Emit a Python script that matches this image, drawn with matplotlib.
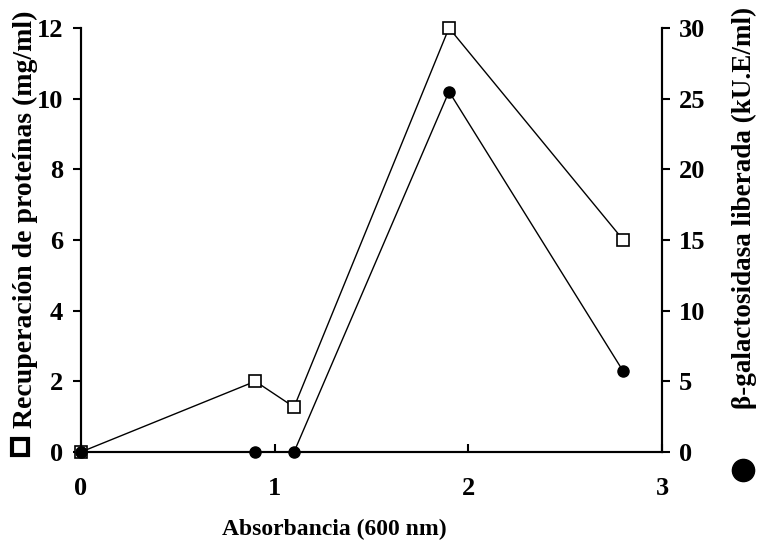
import matplotlib.pyplot as plt
from matplotlib.lines import Line2D

plt.rcParams['font.family'] = ['Liberation Serif', 'DejaVu Serif']
plt.rcParams['font.weight'] = 'bold'

absorbancia = [0, 0.9, 1.1, 1.9, 2.8]
proteinas = [0, 2.0, 1.27, 12.0, 6.0]
galactosidasa = [0, 0, 0, 25.5, 5.7]

fig = plt.figure(figsize=(7.6, 5.46), dpi=100)
ax = fig.add_axes([0.1066, 0.1722, 0.7645, 0.7766])
ax2 = ax.twinx()

ax.plot(absorbancia, proteinas, color='black', lw=1.0, marker='s', ms=8.5,
        mfc='white', mec='black', mew=1.2, zorder=3, clip_on=False)
ax2.plot(absorbancia, galactosidasa, color='black', lw=1.0, marker='o', ms=8,
         mfc='black', mec='black', zorder=3, clip_on=False)

ax.set_xlim(0, 3)
ax.set_ylim(0, 12)
ax2.set_ylim(0, 30)
ax.set_xticks([0, 1, 2, 3])
ax.set_yticks(range(0, 13, 2))
ax2.set_yticks(range(0, 31, 5))

for a in (ax, ax2):
    a.spines['top'].set_visible(False)
    for s in a.spines.values():
        s.set_linewidth(1.5)
ax.tick_params(axis='x', direction='in', length=6, width=1.5, labelsize=19, pad=18)
ax.tick_params(axis='y', direction='out', length=6, width=1.5, labelsize=19, pad=7)
ax2.tick_params(axis='y', direction='out', length=6, width=1.5, labelsize=19, pad=6)

# axis titles placed by hand, with their symbol keys
fig.text(0.440, 0.031, 'Absorbancia (600 nm)', fontsize=17, fontweight='bold',
         ha='center', va='center')
fig.text(0.033, 0.598, 'Recuperación de proteínas (mg/ml)', fontsize=20,
         fontweight='bold', rotation=90, ha='center', va='center')
fig.text(0.979, 0.62, '\u03b2-galactosidasa liberada (kU.E/ml)', fontsize=19.5,
         fontweight='bold', rotation=90, ha='center', va='center')
fig.add_artist(Line2D([0.026], [0.181], transform=fig.transFigure, marker='s',
                      ms=12, mfc='white', mec='black', mew=3, ls='none'))
fig.add_artist(Line2D([0.978], [0.139], transform=fig.transFigure, marker='o',
                      ms=16, mfc='black', mec='black', ls='none'))

fig.savefig('out.png', dpi=100)
